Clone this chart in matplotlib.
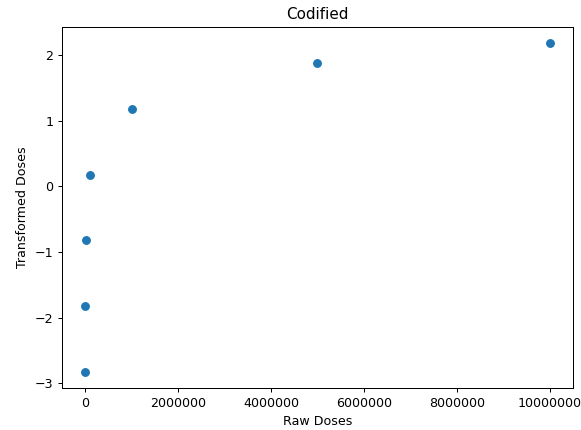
import matplotlib
matplotlib.use("Agg")
import matplotlib.pyplot as plt
from matplotlib.ticker import ScalarFormatter

raw_doses = [100, 1000, 10000, 100000, 1000000, 5000000, 10000000]
transformed_doses = [-2.82, -1.82, -0.82, 0.18, 1.18, 1.88, 2.18]

DPI = 91
fig = plt.figure(figsize=(581/DPI, 430/DPI), dpi=DPI)
ax = fig.add_axes([62/581, 42/430, (573-62)/581, (388-27)/430])
ax.scatter(raw_doses, transformed_doses, color='#1f77b4')
fmt = ScalarFormatter(useOffset=False)
fmt.set_scientific(False)
ax.xaxis.set_major_formatter(fmt)
ax.set_title("Codified")
ax.set_xlabel("Raw Doses")
ax.set_ylabel("Transformed Doses")
fig.savefig("out.png", dpi=DPI)
